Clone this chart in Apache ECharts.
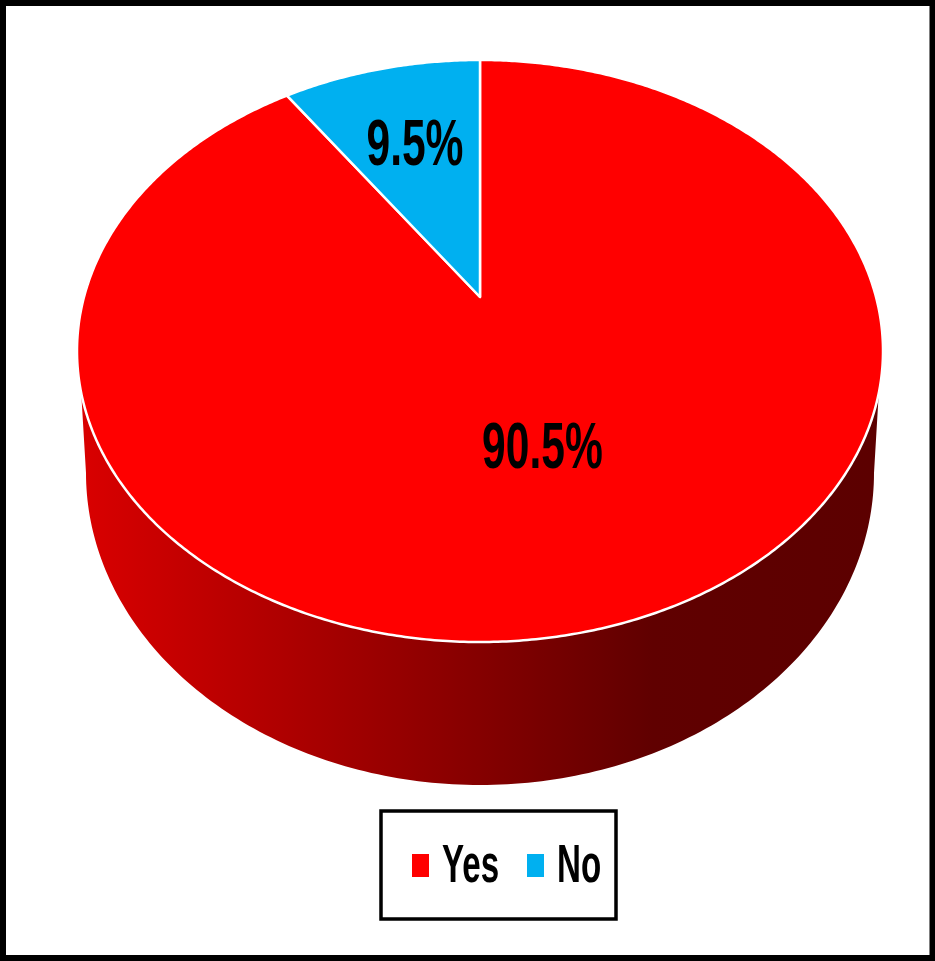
<!DOCTYPE html>
<html><head><meta charset="utf-8">
<style>html,body{margin:0;padding:0;background:#fff}#c{width:935px;height:961px}</style>
<script src="https://cdn.jsdelivr.net/npm/echarts@6/dist/echarts.min.js"></script>
</head><body><div id="c"></div>
<script>
const categories = ['Yes', 'No'];
const values = [90.5, 9.5];
const sliceColors = ['#ff0000', '#00b0f0'];

const FONT = '"Liberation Sans",sans-serif';
const TOP = {cx: 480, cy: 351, rx: 403, ry: 291};
const LOW = {cy: 473, rx: 394, ry: 312};
const APEX_SHIFT = 54 / 291;        // perspective: pie centre sits above ellipse centre
const WALL_TOP_Y = 393;
const LABEL_R = [0.518, 0.62];
const LABEL_NUDGE = [[-4, 0], [0, 0]];
const LEGEND_MARK_X = [412, 527], LEGEND_TEXT_X = [442, 557];
const total = values.reduce((a, b) => a + b, 0);

// Point at clockwise angle (deg, 0 = up) and radius r of the pie, in perspective.
function project(deg, r) {
  const t = deg * Math.PI / 180, d = APEX_SHIFT;
  const x = r * Math.sin(t), y = r * Math.cos(t), k = 1 + y * d;
  return [TOP.cx + TOP.rx * x * Math.sqrt(1 - d * d) / k,
          TOP.cy - TOP.ry * (y + d) / k];
}
function wallPoints() {
  const pts = [];
  const dx0 = TOP.rx * Math.sqrt(1 - Math.pow((WALL_TOP_Y - TOP.cy) / TOP.ry, 2));
  pts.push([TOP.cx - dx0, WALL_TOP_Y]);
  for (let a = 180; a >= 0; a -= 1) {
    const t = a * Math.PI / 180;
    pts.push([TOP.cx + LOW.rx * Math.cos(t), LOW.cy + LOW.ry * Math.sin(t)]);
  }
  pts.push([TOP.cx + dx0, WALL_TOP_Y]);
  return pts;
}
function makeRender(idx) {
  return function (params, api) {
    const v = api.value(0);
    const before = values.slice(0, idx).reduce((a, b) => a + b, 0);
    const a0 = before / total * 360, a1 = (before + v) / total * 360;
    const pts = [project(0, 0)];
    const n = Math.max(2, Math.ceil(a1 - a0) * 2);
    for (let i = 0; i <= n; i++) pts.push(project(a0 + (a1 - a0) * i / n, 1));
    const children = [];
    if (a0 <= 90 && a1 >= 270) {
      children.push({type: 'polygon', shape: {points: wallPoints()}, style: {
        fill: {type: 'linear', x: 88, y: 0, x2: 872, y2: 0, global: true, colorStops: [
          {offset: 0, color: '#d80000'}, {offset: 0.72, color: '#600000'}, {offset: 1, color: '#5c0000'}]}
      }});
    }
    children.push({type: 'polygon', shape: {points: pts},
      style: {fill: sliceColors[idx], stroke: '#fff', lineWidth: 2.5, lineJoin: 'round'}});
    const c = project((a0 + a1) / 2, LABEL_R[idx]);
    children.push({type: 'text', x: c[0] + LABEL_NUDGE[idx][0], y: c[1] + LABEL_NUDGE[idx][1], scaleX: 0.665, z2: 10, style: {
      text: v.toFixed(1) + '%', fill: '#000', font: 'bold 64px ' + FONT,
      align: 'center', verticalAlign: 'middle'}});
    return {type: 'group', children};
  };
}
const legendItems = categories.flatMap((n, i) => [
  {type: 'rect', z: 6, shape: {x: LEGEND_MARK_X[i], y: 854, width: 17, height: 23},
   style: {fill: sliceColors[i]}},
  {type: 'text', z: 6, x: LEGEND_TEXT_X[i], y: 867, scaleX: 0.625,
   style: {text: n, fill: '#000', font: 'bold 53px ' + FONT, align: 'left', verticalAlign: 'middle'}}
]);
const chart = echarts.init(document.getElementById('c'), null, {renderer: 'canvas'});
chart.setOption({
  animation: false,
  backgroundColor: '#fff',
  graphic: [
    {type: 'rect', z: -1, shape: {x: 3, y: 3, width: 929.5, height: 955},
     style: {fill: 'none', stroke: '#000', lineWidth: 6}},
    {type: 'rect', z: 5, shape: {x: 381, y: 811, width: 235, height: 108},
     style: {fill: '#fff', stroke: '#000', lineWidth: 3.5}}
  ].concat(legendItems),
  series: categories.map((n, i) => ({
    type: 'custom', name: n, coordinateSystem: 'none',
    itemStyle: {color: sliceColors[i]},
    renderItem: makeRender(i), data: [values[i]]
  }))
});
</script></body></html>
